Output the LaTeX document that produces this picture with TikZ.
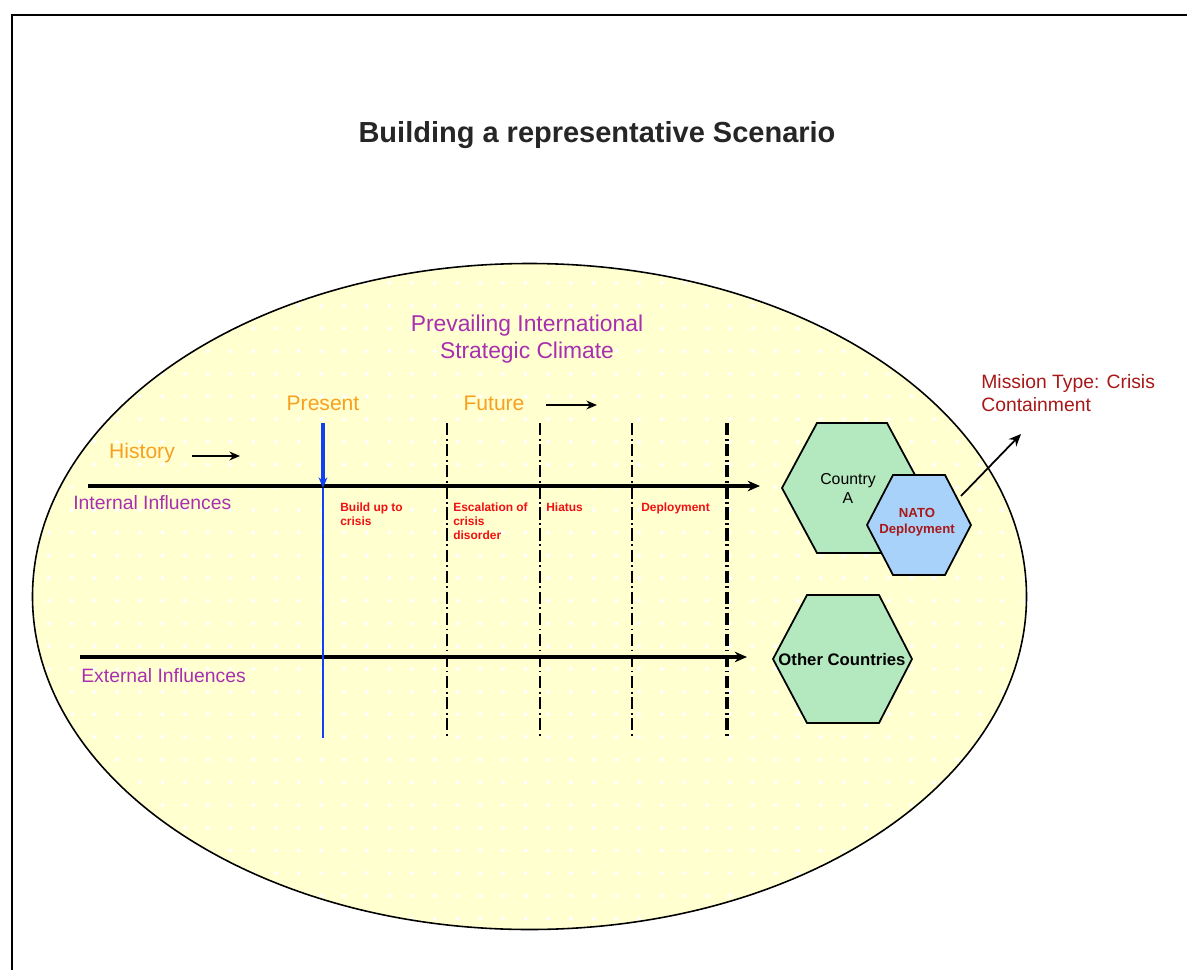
\documentclass[tikz,border=0pt]{standalone}
\usepackage{fontspec}
\setmainfont{Liberation Sans}
\usetikzlibrary{arrows.meta}
\definecolor{ellfill}{HTML}{FFFFD0}
\definecolor{purp}{HTML}{A830B0}
\definecolor{orng}{HTML}{F8A020}
\definecolor{redl}{HTML}{F01010}
\definecolor{dred}{HTML}{A81818}
\definecolor{hgreen}{HTML}{B4E8BE}
\definecolor{hblue}{HTML}{A8D2FA}
\definecolor{bline}{HTML}{1040F0}
\tikzset{
  x=0.02cm, y=-0.02cm,
  fs/.style={font=\fontsize{#1}{\dimexpr#1pt*12/10\relax}\selectfont},
  fsb/.style={font=\fontsize{#1}{\dimexpr#1pt*12/10\relax}\selectfont\bfseries},
  purptext/.style={text=purp, inner sep=0pt},
  orgtext/.style={text=orng, inner sep=0pt, fs=12},
  redlbl/.style={text=redl, inner sep=0pt, anchor=north west, align=left, fsb=6.8},
  tline/.style={line width=2.2pt, -{Stealth[length=7pt,width=6pt]}},
  smarrow/.style={line width=1.1pt, -{Stealth[length=6pt,width=5pt]}},
  vdash/.style={line width=1.1pt, dash pattern=on 7pt off 2pt on 1pt off 2pt},
  hexa/.style={draw=black, line width=1pt, line join=miter},
}
\begin{document}
\begin{tikzpicture}
\useasboundingbox (0,0) rectangle (1187,970);
\fill[white] (0,0) rectangle (1187,970);
% frame
\draw[line width=1.3pt] (12,985) -- (12,15) -- (1200,15);
% title
\node[fsb=16.5, text=black!85] (title) at (597,135) {Building a representative Scenario};
% ellipse
\fill[ellfill] (529.5,596.5) ellipse [x radius=497, y radius=333];
\begin{scope}
  \clip (529.5,596.5) ellipse [x radius=497, y radius=333];
  \foreach \i in {0,...,44} {
    \foreach \j in {0,...,30} {
      \fill[white] ({26.2+\i*22.7},{260.3+\j*22.7}) circle [radius=2];
    }
  }
\end{scope}
\draw[line width=0.9pt] (529.5,596.5) ellipse [x radius=497, y radius=333];
% headings
\node[purptext, fs=13, align=center] (climate) at (527,339) {Prevailing International\\Strategic Climate};
\node[orgtext] (present) at (323,403) {Present};
\node[orgtext] (future) at (494,403) {Future};
\node[orgtext] (history) at (142,453) {History};
\coordinate (fa1) at (546,405); \coordinate (fa2) at (597,405);
\coordinate (ha1) at (192,456); \coordinate (ha2) at (240,456);
\draw[smarrow] (fa1) -- (fa2);
\draw[smarrow] (ha1) -- (ha2);
% vertical lines
\foreach \xx/\nm in {447/d1, 540/d2, 632/d3} {
  \coordinate (\nm t) at (\xx,423); \coordinate (\nm b) at (\xx,738);
  \draw[vdash] (\nm t) -- (\nm b);
}
\coordinate (d4t) at (727,423); \coordinate (d4b) at (727,738);
\draw[vdash, line width=2.3pt] (d4t) -- (d4b);
% timelines
\coordinate (it1) at (88,486); \coordinate (it2) at (760,486);
\coordinate (et1) at (80,657); \coordinate (et2) at (747,657);
\draw[tline] (it1) -- (it2);
\draw[tline] (et1) -- (et2);
% blue present line
\coordinate (bt) at (323,423); \coordinate (bm) at (323,488); \coordinate (bb) at (323,738);
\draw[bline, line width=1.2pt] (bm) -- (bb);
\draw[bline, line width=2.4pt, -{Stealth[length=6pt,width=5pt]}] (bt) -- (bm);
% influence labels
\node[purptext, fs=11, anchor=west] (intinf) at (73,503) {Internal Influences};
\node[purptext, fs=11, anchor=west] (extinf) at (81,676) {External Influences};
% phase labels
\node[redlbl] (ph1) at (340,502) {Build up to\\crisis};
\node[redlbl] (ph2) at (453,502) {Escalation of\\crisis\\disorder};
\node[redlbl] (ph3) at (546,502) {Hiatus};
\node[redlbl] (ph4) at (641,502) {Deployment};
% Country A hexagon
\draw[hexa, fill=hgreen] (782,488) -- (817,423) -- (887,423) -- (922,488) -- (887,553) -- (817,553) -- cycle;
\node[fs=9, align=center, inner sep=0pt] (ctryA) at (848,488) {Country\\A};
% NATO hexagon
\draw[hexa, fill=hblue] (867,525) -- (893,475) -- (945,475) -- (971,525) -- (945,575) -- (893,575) -- cycle;
\node[fsb=7.5, text=dred, align=center, inner sep=0pt] (nato) at (917,522) {NATO\\Deployment};
% Other countries hexagon
\draw[hexa, fill=hgreen] (773,659) -- (807,595) -- (879,595) -- (912,659) -- (879,723) -- (807,723) -- cycle;
\node[fsb=9.5, inner sep=0pt] (other) at (842,660) {Other Countries};
% mission
\node[fs=11, text=dred, align=left, anchor=north west, inner sep=0pt] (mission) at (981,374) {Mission Type: Crisis\\Containment};
\coordinate (ma1) at (961,496); \coordinate (ma2) at (1021,434);
\draw[line width=1pt, -{Stealth[length=7pt,width=6pt]}] (ma1) -- (ma2);
\end{tikzpicture}
\end{document}
